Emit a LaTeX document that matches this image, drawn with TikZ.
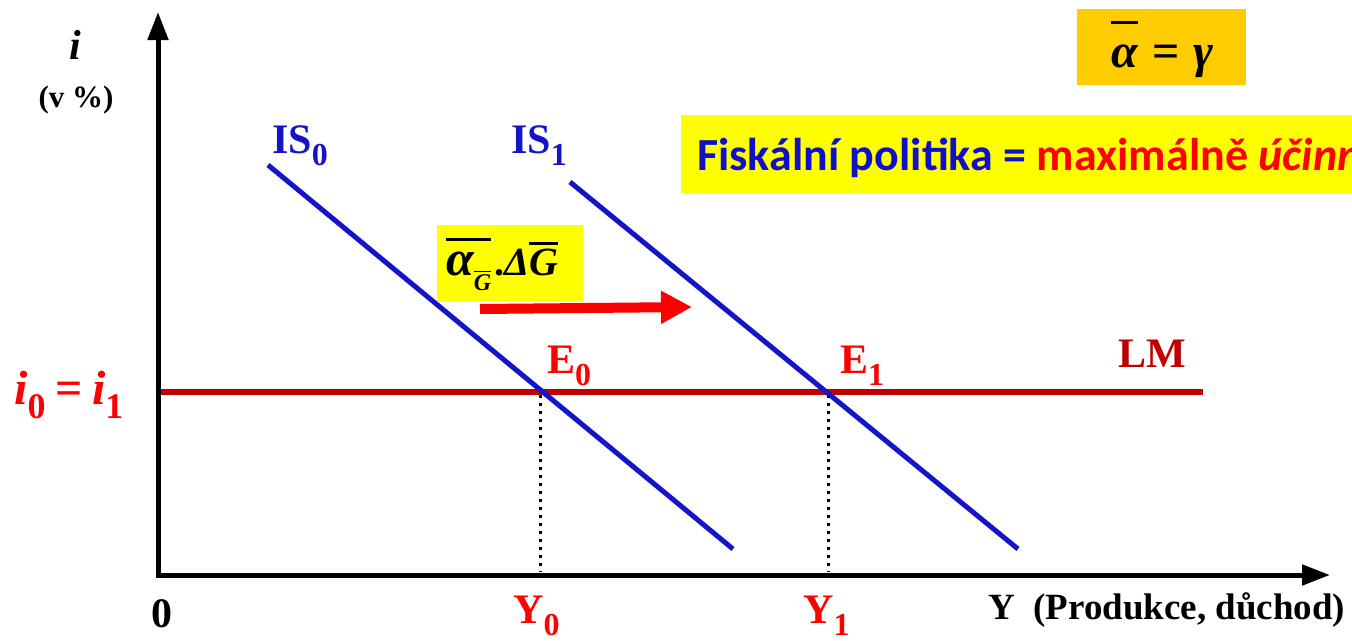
\documentclass[tikz,border=0pt]{standalone}
\usepackage{fontspec}
\setmainfont{Liberation Serif}
\newfontfamily\calfont{Carlito}
\usetikzlibrary{arrows.meta}
\definecolor{isblue}{RGB}{20,20,200}
\definecolor{lmred}{RGB}{192,0,0}
\definecolor{txtred}{RGB}{255,0,0}
\definecolor{hlyellow}{RGB}{255,255,0}
\definecolor{hlorange}{RGB}{255,204,0}
\definecolor{fiskblue}{RGB}{16,16,200}
\newcommand\mysub[2][30]{\raisebox{-0.3em}{\fontsize{#1}{#1}\selectfont #2}}
\newcommand\ovl[2][0.2em]{\vbox{\hrule height 0.06em\kern#1\hbox{#2}}}
\begin{document}
\begin{tikzpicture}[x=1pt,y=-1pt,
  lbl/.style={font=\fontsize{42}{46}\selectfont\bfseries, inner sep=0},
  isline/.style={isblue, line width=5},
  lmline/.style={lmred, line width=6},
  dotline/.style={black, line width=3, dash pattern=on 3pt off 5pt},
  axis/.style={black, line width=5, -{Triangle[length=28pt,width=20pt]}},
  shiftarrow/.style={txtred, line width=10, -{Triangle[length=31pt,width=31pt]}},
  hlbox/.style={inner sep=0, anchor=north west}]
\useasboundingbox (0,0) rectangle (1352,640);

% axes
\coordinate (O) at (158,575);
\coordinate (ytop) at (158,12);
\coordinate (xend) at (1330,575);
\coordinate (Oy) at (158,577.5);
\coordinate (Ox) at (155.5,575);
\draw[axis] (Oy) -- (ytop);
\draw[axis] (Ox) -- (xend);

% LM
\coordinate (lm0) at (161,392);
\coordinate (lm1) at (1203,392);
\draw[lmline] (lm0) -- (lm1);

% IS curves
\coordinate (is0a) at (268,165);
\coordinate (is0b) at (733,549);
\coordinate (is1a) at (570,182);
\coordinate (is1b) at (1018,549);
\draw[isline] (is0a) -- (is0b);
\draw[isline] (is1a) -- (is1b);

% equilibria and dotted lines
\coordinate (E0) at (540,395);
\coordinate (E1) at (828,395);
\coordinate (Y0) at (540,572);
\coordinate (Y1) at (828,572);
\draw[dotline] (E0) -- (Y0);
\draw[dotline] (E1) -- (Y1);

% labels
\node[lbl, anchor=center] (ilab) at (75,45) {\textit{i}};
\node[lbl, anchor=center, font=\fontsize{31}{34}\selectfont\bfseries] (vpct) at (76,100) {(v \%)};
\node[lbl, anchor=base west, text=txtred, font=\fontsize{48}{52}\selectfont\bfseries] (i0i1) at (14,404)
  {\textit{i}\mysub[36]{0}\hspace{0.2em}=\hspace{0.2em}\textit{i}\mysub[36]{1}};
\node[lbl, anchor=base west, text=isblue] (is0lab) at (272,153) {IS\mysub[32]{0}};
\node[lbl, anchor=base west, text=isblue] (is1lab) at (511,153) {IS\mysub[32]{1}};
\node[lbl, anchor=base west, text=txtred] (e0lab) at (547,373) {E\mysub[32]{0}};
\node[lbl, anchor=base west, text=txtred] (e1lab) at (840,373) {E\mysub[32]{1}};
\node[lbl, anchor=base west, text=lmred] (lmlab) at (1118,367) {LM};
\node[lbl, anchor=base west, text=txtred] (y0lab) at (513,623) {Y\mysub[32]{0}};
\node[lbl, anchor=base west, text=txtred] (y1lab) at (803,623) {Y\mysub[32]{1}};
\node[lbl, anchor=base west] (zero) at (151,627) {0};
\node[lbl, anchor=base west, font=\fontsize{37}{41}\selectfont\bfseries] (ylab) at (988,619) {Y\ \ (Produkce, důchod)};

% orange formula box
\node[hlbox, fill=hlorange, minimum width=169, minimum height=76] (obox) at (1077,9) {};
\node[inner sep=0, anchor=base west, font=\fontsize{48}{52}\selectfont\bfseries\itshape] (oform) at (1111,67)
  {\ovl[0.42em]{α}\hspace{0.3em}\upshape=\hspace{0.3em}\itshape γ};

% yellow formula box and arrow
\node[hlbox, fill=hlyellow, minimum width=146, minimum height=76] (ybox) at (437,225) {};
\node[inner sep=0, anchor=base west, font=\fontsize{50}{54}\selectfont\bfseries\itshape] (yform) at (446,275)
  {\ovl[0.2em]{α\raisebox{-0.3em}{\fontsize{24}{24}\selectfont\ovl[0.08em]{G}}}{\fontsize{40}{44}\selectfont\hspace{0.08em}\upshape.\itshape Δ\ovl[0.1em]{G}}};
\coordinate (ar0) at (480,309);
\coordinate (ar1) at (692,307);
\draw[shiftarrow] (ar0) -- (ar1);

% fiscal policy box
\begin{scope}
\clip (0,0) rectangle (1352,640);
\node[hlbox, fill=hlyellow, minimum width=680, minimum height=78] (fbox) at (681,115) {};
\node[inner sep=0, anchor=base west, font=\calfont\fontsize{46}{50}\selectfont\bfseries] (ftext) at (697,170)
  {\textcolor{fiskblue}{Fiskální politika =} \textcolor{txtred}{maximálně \textit{účinná}}};
\end{scope}
\end{tikzpicture}
\end{document}
